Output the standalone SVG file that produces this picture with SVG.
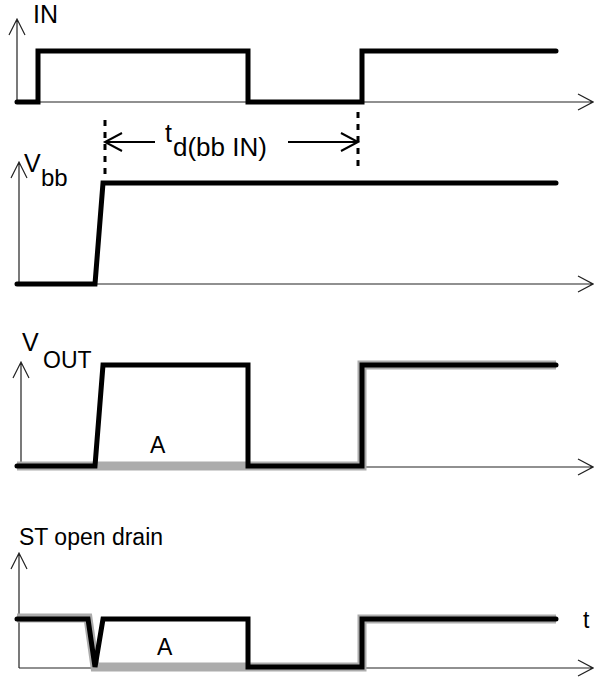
<svg xmlns="http://www.w3.org/2000/svg" width="594" height="678" viewBox="0 0 594 678">
<style>
.ax{fill:none;stroke:#222;stroke-width:1.2}
.sig{fill:none;stroke:#000;stroke-width:5;stroke-linecap:round;stroke-linejoin:miter}
.gr{fill:none;stroke:#acacac;stroke-width:9;stroke-linecap:butt}
.dash{fill:none;stroke:#000;stroke-width:3;stroke-dasharray:6 6}
.dim{fill:none;stroke:#000;stroke-width:2}
text{font-family:"Liberation Sans",Arial,sans-serif;fill:#000}
.lb{font-size:23px}
.big{font-size:25px}
.sub{font-size:24px}
.td{font-size:26px}
</style>
<rect width="594" height="678" fill="#fff"/>
<g id="axes">
<path class="ax" d="M17,102 V19 M9,35 L17,19 L25,35 M17,102 H593 M578,94 L593,102 L578,110"/>
<path class="ax" d="M19,284 V162 M11,178 L19,162 L27,178 M19,284 H593 M578,276 L593,284 L578,292"/>
<path class="ax" d="M21,467 V362 M13,378 L21,362 L29,378 M21,467 H593 M578,459 L593,467 L578,475"/>
<path class="ax" d="M19,668 V553 M11,569 L19,553 L27,569 M19,668 H593 M578,660 L593,668 L578,676"/>
</g>
<g id="gray-traces">
<path class="gr" d="M17,466 H362 V365 H556"/>
<path class="gr" d="M17,618 H88 L95,667 H362 V619 H556"/>
</g>
<g id="signal-IN"><path class="sig" d="M17,102 H38 V51 H248 V102 H362 V51 H556"/></g>
<g id="signal-Vbb"><path class="sig" d="M17,284 H95 L103,183 H556"/></g>
<g id="signal-VOUT"><path class="sig" d="M17,466 H95 L103,365 H248 V466 H362 V365 H556"/></g>
<g id="signal-ST"><path class="sig" d="M17,619 H88 L95,667 L103,619 H248 V667 H362 V619 H556"/></g>
<g id="connectors">
<path class="dash" d="M105,120 V176"/>
<path class="dash" d="M358,112 V166"/>
<path class="dim" d="M105,142 H155 M122,133 L105,142 L122,151"/>
<path class="dim" d="M288,142 H358 M341,133 L358,142 L341,151"/>
</g>
<g id="labels">
<text class="big" x="33" y="23">IN</text>
<text class="big" x="24" y="172">V</text><text class="sub" x="41" y="186">bb</text>
<text class="big" x="165" y="142">t</text><text class="td" x="173" y="156">d(bb IN)</text>
<text class="big" x="22" y="351">V</text><text class="lb" x="43" y="368">OUT</text>
<text class="lb" x="150" y="453">A</text>
<text class="lb" x="19" y="545">ST open drain</text>
<text class="lb" x="157" y="655">A</text>
<text class="lb" x="583" y="628">t</text>
</g>
</svg>
